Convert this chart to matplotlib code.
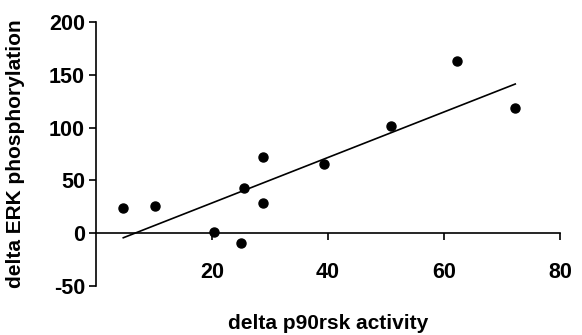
import numpy as np
import matplotlib.pyplot as plt

plt.rcParams['font.family'] = ['Liberation Sans', 'DejaVu Sans']
plt.rcParams['font.weight'] = 'bold'
plt.rcParams['axes.unicode_minus'] = False

# delta p90rsk activity vs delta ERK phosphorylation
p90rsk = [4.7, 10.2, 20.3, 25.0, 25.6, 28.8, 28.8, 39.3, 50.8, 62.2, 72.3]
erk = [23.6, 25.5, 1.0, -9.4, 43.0, 72.0, 29.0, 66.0, 102.0, 163.0, 119.0]

xticks = [20, 40, 60, 80]
yticks = [-50, 0, 50, 100, 150, 200]

fig = plt.figure(figsize=(5.82, 3.35), dpi=100)
ax = fig.add_axes([0.165, 0.146, 0.797, 0.788])

ax.plot(p90rsk, erk, 'o', color='black', markersize=6.5)

# regression line
slope, icpt = np.polyfit(p90rsk, erk, 1)
xx = np.array([min(p90rsk), max(p90rsk)])
ax.plot(xx, slope * xx + icpt, color='black', lw=1.2)

ax.set_xlim(0, 80)
ax.set_ylim(-50, 200)
ax.set_xticks(xticks)
ax.set_yticks(yticks)

ax.spines['top'].set_visible(False)
ax.spines['right'].set_visible(False)
ax.spines['bottom'].set_position(('data', 0))
ax.spines['left'].set_linewidth(1.2)
ax.spines['bottom'].set_linewidth(1.2)

ax.tick_params(axis='y', direction='out', length=5, width=1.2, labelsize=15.5, pad=3)
ax.tick_params(axis='x', direction='out', length=5, width=1.2, labelsize=15.5, pad=16)

ax.set_ylabel('delta ERK phosphorylation', fontsize=15, fontweight='bold')
ax.yaxis.set_label_coords(-0.153, 0.5)
ax.set_xlabel('delta p90rsk activity', fontsize=15, fontweight='bold')
ax.xaxis.set_label_coords(0.5, -0.105)

fig.savefig('out.png', dpi=100)
